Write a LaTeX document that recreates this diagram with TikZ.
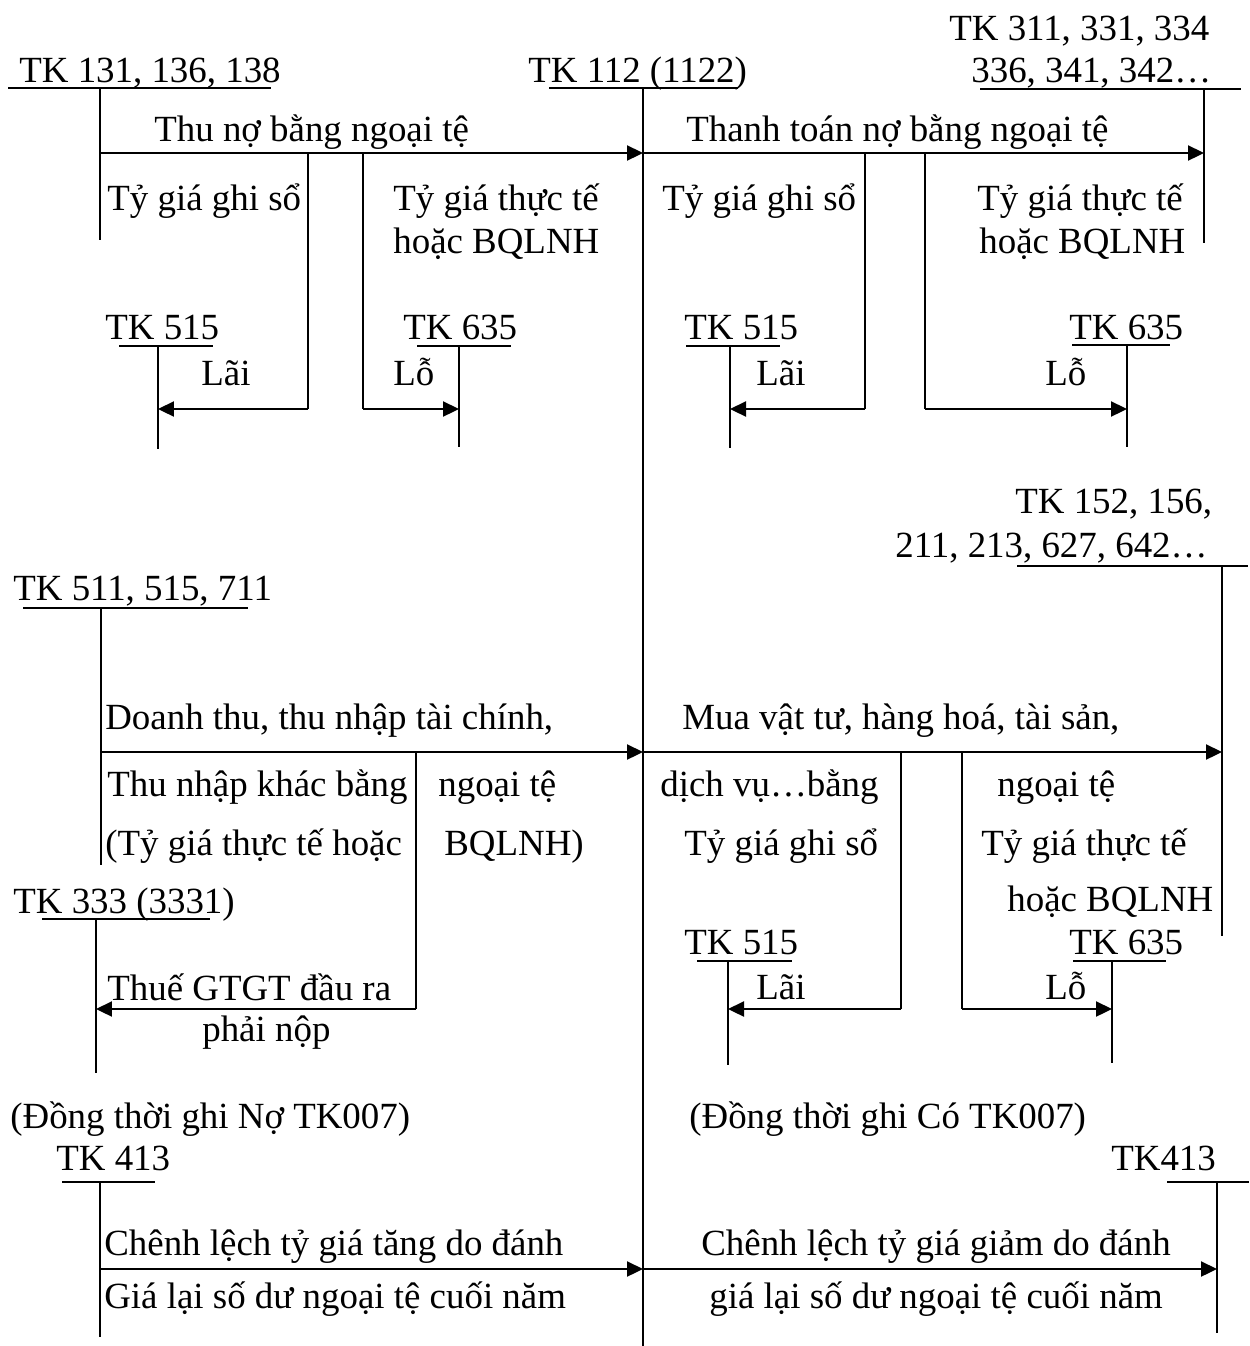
\documentclass[tikz,border=0pt]{standalone}
\usepackage{fontspec}
\setmainfont{Liberation Serif}
\usetikzlibrary{arrows.meta}

\tikzset{
  lbl/.style={anchor=base west, inner sep=0pt, font=\fontsize{21}{25}\selectfont},
  acct/.style={line width=0.9pt},
  uline/.style={line width=0.8pt},
  flow/.style={line width=1.3pt, -{Triangle[length=0.32cm,width=0.3cm]}},
}

\begin{document}
\begin{tikzpicture}[x=0.02cm,y=-0.02cm]
  \useasboundingbox (0,0) rectangle (1249,1346);
  % rows of the arrows
  \coordinate (r1) at (0,153);
  \coordinate (r1b) at (0,409);
  \coordinate (r2) at (0,752);
  \coordinate (r2b) at (0,1009);
  \coordinate (r3) at (0,1269);

  % ---------- top part: thu no / thanh toan no ----------
  \node[lbl] (h131) at (19,82) {TK 131, 136, 138};
  \node[lbl] (h112) at (528,82) {TK 112 (1122)};
  \node[lbl] (h311) at (949,40) {TK 311, 331, 334};
  \node[lbl] (h336) at (971,82) {336, 341, 342…};
  \draw[uline] (8,88) -- (271,88);
  \draw[uline] (549,88) -- (738,88);
  \draw[uline] (980,89) -- (1241,89);
  \coordinate (k131) at (100,88);
  \coordinate (k112) at (643,88);
  \coordinate (k311) at (1204,89);
  \draw[acct] (k131) -- (100,240);
  \draw[acct] (k112) -- (643,1346);
  \draw[acct] (k311) -- (1204,243);
  \draw[flow] (k131 |- r1) -- (k112 |- r1);
  \draw[flow] (k112 |- r1) -- (k311 |- r1);
  \node[lbl] (thuno) at (154,141) {Thu nợ bằng ngoại tệ};
  \node[lbl] (ttno) at (686,141) {Thanh toán nợ bằng ngoại tệ};
  \node[lbl] (gs1) at (107,210) {Tỷ giá ghi sổ};
  \node[lbl] (tt1) at (393,210) {Tỷ giá thực tế};
  \node[lbl] (bq1) at (393,253) {hoặc BQLNH};
  \node[lbl] (gs2) at (662,210) {Tỷ giá ghi sổ};
  \node[lbl] (tt2) at (977,210) {Tỷ giá thực tế};
  \node[lbl] (bq2) at (979,253) {hoặc BQLNH};
  % small accounts TK 515 / TK 635
  \node[lbl] (h515a) at (105,339) {TK 515};
  \node[lbl] (h635a) at (403,339) {TK 635};
  \node[lbl] (h515b) at (684,339) {TK 515};
  \node[lbl] (h635b) at (1069,339) {TK 635};
  \draw[uline] (119,346) -- (213,346);
  \draw[uline] (417,346) -- (511,346);
  \draw[uline] (686,346) -- (780,346);
  \draw[uline] (1072,345) -- (1170,345);
  \coordinate (k515a) at (158,346);
  \coordinate (k635a) at (459,346);
  \coordinate (k515b) at (730,346);
  \coordinate (k635b) at (1127,345);
  \draw[acct] (k515a) -- (158,449);
  \draw[acct] (k635a) -- (459,447);
  \draw[acct] (k515b) -- (730,448);
  \draw[acct] (k635b) -- (1127,447);
  % branches for lai / lo
  \coordinate (s1) at (308,153);
  \coordinate (s2) at (363,153);
  \coordinate (s3) at (865,153);
  \coordinate (s4) at (925,153);
  \draw[acct] (s1) -- (s1 |- r1b);
  \draw[acct] (s2) -- (s2 |- r1b);
  \draw[acct] (s3) -- (s3 |- r1b);
  \draw[acct] (s4) -- (s4 |- r1b);
  \draw[flow] (s1 |- r1b) -- (k515a |- r1b);
  \draw[flow] (s2 |- r1b) -- (k635a |- r1b);
  \draw[flow] (s3 |- r1b) -- (k515b |- r1b);
  \draw[flow] (s4 |- r1b) -- (k635b |- r1b);
  \node[lbl] (lai1) at (201,385) {Lãi};
  \node[lbl] (lo1) at (393,385) {Lỗ};
  \node[lbl] (lai2) at (756,385) {Lãi};
  \node[lbl] (lo2) at (1045,385) {Lỗ};

  % ---------- middle part: doanh thu / mua vat tu ----------
  \node[lbl] (h511) at (13,600) {TK 511, 515, 711};
  \node[lbl] (h152) at (1015,513) {TK 152, 156,};
  \node[lbl] (h211) at (895,557) {211, 213, 627, 642…};
  \draw[uline] (23,608) -- (248,608);
  \draw[uline] (1017,566) -- (1248,566);
  \coordinate (k511) at (101,608);
  \coordinate (k152) at (1222,566);
  \draw[acct] (k511) -- (101,865);
  \draw[acct] (k152) -- (1222,936);
  \draw[flow] (k511 |- r2) -- (k112 |- r2);
  \draw[flow] (k112 |- r2) -- (k152 |- r2);
  \node[lbl] (dt1) at (105,729) {Doanh thu, thu nhập tài chính,};
  \node[lbl] (dt2) at (107,796) {Thu nhập khác bằng};
  \node[lbl] (dt3) at (438,796) {ngoại tệ};
  \node[lbl] (dt4) at (105,855) {(Tỷ giá thực tế hoặc};
  \node[lbl] (dt5) at (444,855) {BQLNH)};
  \node[lbl] (mua1) at (682,729) {Mua vật tư, hàng hoá, tài sản,};
  \node[lbl] (mua2) at (660,796) {dịch vụ…bằng};
  \node[lbl] (mua3) at (997,796) {ngoại tệ};
  \node[lbl] (gs3) at (684,855) {Tỷ giá ghi sổ};
  \node[lbl] (tt3) at (981,855) {Tỷ giá thực tế};
  \node[lbl] (bq3) at (1007,911) {hoặc BQLNH};
  % VAT account
  \node[lbl] (h333) at (13,913) {TK 333 (3331)};
  \draw[uline] (42,919) -- (210,919);
  \coordinate (k333) at (96,919);
  \draw[acct] (k333) -- (96,1073);
  \coordinate (s5) at (416,752);
  \draw[acct] (s5) -- (s5 |- r2b);
  \draw[flow] (s5 |- r2b) -- (k333 |- r2b);
  \node[lbl] (vat1) at (107,1000) {Thuế GTGT đầu ra};
  \node[lbl] (vat2) at (202,1041) {phải nộp};
  % small accounts TK 515 / TK 635
  \node[lbl] (h515c) at (684,954) {TK 515};
  \node[lbl] (h635c) at (1069,954) {TK 635};
  \draw[uline] (697,961) -- (792,961);
  \draw[uline] (1073,961) -- (1166,961);
  \coordinate (k515c) at (728,961);
  \coordinate (k635c) at (1112,961);
  \draw[acct] (k515c) -- (728,1065);
  \draw[acct] (k635c) -- (1112,1063);
  \coordinate (s6) at (901,752);
  \coordinate (s7) at (962,752);
  \draw[acct] (s6) -- (s6 |- r2b);
  \draw[acct] (s7) -- (s7 |- r2b);
  \draw[flow] (s6 |- r2b) -- (k515c |- r2b);
  \draw[flow] (s7 |- r2b) -- (k635c |- r2b);
  \node[lbl] (lai3) at (756,999) {Lãi};
  \node[lbl] (lo3) at (1045,999) {Lỗ};

  % ---------- bottom part: TK 413 ----------
  \node[lbl] (no007) at (10,1128) {(Đồng thời ghi Nợ TK007)};
  \node[lbl] (co007) at (689,1128) {(Đồng thời ghi Có TK007)};
  \node[lbl] (h413a) at (56,1170) {TK 413};
  \node[lbl] (h413b) at (1111,1170) {TK413};
  \draw[uline] (62,1182) -- (155,1182);
  \draw[uline] (1167,1182) -- (1249,1182);
  \coordinate (k413a) at (100,1182);
  \coordinate (k413b) at (1217,1182);
  \draw[acct] (k413a) -- (100,1337);
  \draw[acct] (k413b) -- (1217,1333);
  \draw[flow] (k413a |- r3) -- (k112 |- r3);
  \draw[flow] (k112 |- r3) -- (k413b |- r3);
  \node[lbl] (cl1) at (104,1255) {Chênh lệch tỷ giá tăng do đánh};
  \node[lbl] (cl2) at (104,1308) {Giá lại số dư ngoại tệ cuối năm};
  \node[lbl] (cl3) at (701,1255) {Chênh lệch tỷ giá giảm do đánh};
  \node[lbl] (cl4) at (709,1308) {giá lại số dư ngoại tệ cuối năm};
\end{tikzpicture}
\end{document}
